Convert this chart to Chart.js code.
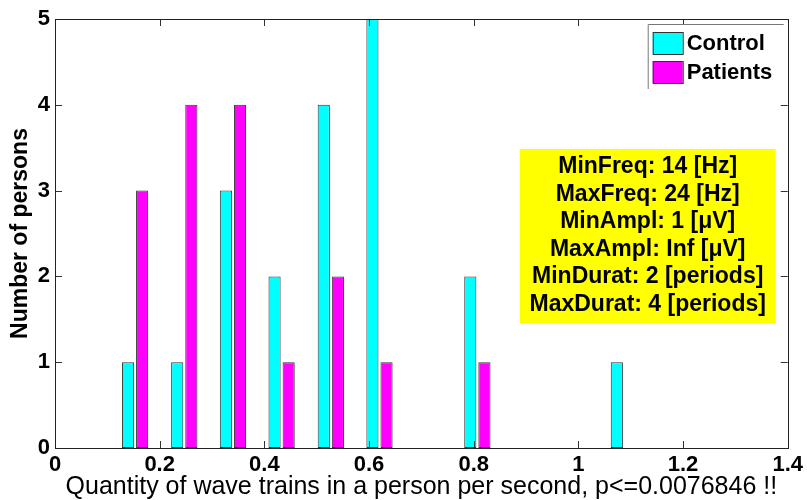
<!DOCTYPE html>
<html>
<head>
<meta charset="utf-8">
<script src="https://cdn.jsdelivr.net/npm/chart.js@4.4.0/dist/chart.umd.min.js"></script>
<style>
  html, body { margin: 0; padding: 0; background: #fff; }
  #wrap { width: 807px; height: 500px; }
</style>
</head>
<body>
<div id="wrap"><canvas id="hist"></canvas></div>
<script>
// histogram bins (centre of each bin) and counts per group
const binCenters = [0.153, 0.247, 0.340, 0.433, 0.527, 0.620, 0.713, 0.807, 0.900, 0.993, 1.087];
const controlCounts = [1, 1, 3, 2, 4, 5, 0, 2, 0, 0, 1];
const patientCounts = [3, 4, 4, 1, 2, 1, 0, 1, 0, 0, 0];
const xTicks = [0, 0.2, 0.4, 0.6, 0.8, 1, 1.2, 1.4];
const yTicks = [0, 1, 2, 3, 4, 5];
const seriesNames = ['Control', 'Patients'];
const seriesColors = ['#00ffff', '#ff00ff'];
const infoLines = [
    'MinFreq: 14 [Hz]',
    'MaxFreq: 24 [Hz]',
    'MinAmpl: 1 [\u03bcV]',
    'MaxAmpl: Inf [\u03bcV]',
    'MinDurat: 2 [periods]',
    'MaxDurat: 4 [periods]'
];
const xTitle = 'Quantity of wave trains in a person per second, p<=0.0076846 !!';
const yTitle = 'Number of persons';

const FONT = '"Liberation Sans", Arial, Helvetica, sans-serif';

function toPoints(counts) {
    // empty bins are not drawn
    return binCenters.map((x, i) => ({ x: x, y: counts[i] > 0 ? counts[i] : null }));
}

const matlabFrame = {
    id: 'matlabFrame',
    afterDatasetsDraw(chart) {
        const ctx = chart.ctx;
        const a = chart.chartArea;
        const xs = chart.scales.x, ys = chart.scales.y;
        ctx.save();

        // inward tick marks on all four sides
        ctx.strokeStyle = '#333';
        ctx.lineWidth = 1;
        const tl = 7;
        ctx.beginPath();
        for (const v of xTicks) {
            const px = Math.round(xs.getPixelForValue(v)) + 0.5;
            ctx.moveTo(px, a.bottom); ctx.lineTo(px, a.bottom - tl);
            ctx.moveTo(px, a.top); ctx.lineTo(px, a.top + tl);
        }
        for (const v of yTicks) {
            const py = Math.round(ys.getPixelForValue(v)) + 0.5;
            ctx.moveTo(a.left, py); ctx.lineTo(a.left + tl, py);
            ctx.moveTo(a.right, py); ctx.lineTo(a.right - tl, py);
        }
        ctx.stroke();

        // box
        ctx.strokeStyle = '#222';
        ctx.strokeRect(Math.round(a.left) + 0.5, Math.round(a.top) + 0.5,
            Math.round(a.right - a.left), Math.round(a.bottom - a.top));

        // legend
        const lx = a.right - 140, ly = a.top + 5, lw = 136, lh = 65;
        ctx.fillStyle = '#fff';
        ctx.fillRect(lx, ly, lw, lh);
        ctx.strokeStyle = '#777';
        ctx.beginPath();
        ctx.moveTo(lx + 0.5, ly + lh); ctx.lineTo(lx + 0.5, ly + 0.5); ctx.lineTo(lx + lw, ly + 0.5);
        ctx.stroke();
        ctx.font = 'bold 22px ' + FONT;
        ctx.textBaseline = 'middle';
        ctx.textAlign = 'left';
        seriesNames.forEach((name, i) => {
            const sy = ly + 8 + i * 29;
            ctx.fillStyle = seriesColors[i];
            ctx.fillRect(lx + 5, sy, 30, 22);
            ctx.strokeStyle = '#333';
            ctx.strokeRect(lx + 5.5, sy + 0.5, 30, 22);
            ctx.fillStyle = '#000';
            ctx.fillText(name, lx + 39, sy + 12);
        });

        // parameter box
        const bx = a.right - 268, by = a.top + 130, bw = 256, bh = 174;
        ctx.fillStyle = '#ffff00';
        ctx.fillRect(bx, by, bw, bh);
        ctx.fillStyle = '#000';
        ctx.font = 'bold 23px ' + FONT;
        ctx.textAlign = 'center';
        infoLines.forEach((t, i) => {
            ctx.fillText(t, bx + bw / 2, by + 18 + i * 27.5);
        });
        ctx.restore();
    }
};

new Chart(document.getElementById('hist'), {
    type: 'bar',
    data: {
        datasets: [
            {
                label: seriesNames[0],
                data: toPoints(controlCounts),
                backgroundColor: seriesColors[0],
                borderColor: '#333',
                borderWidth: 1,
                borderSkipped: false
            },
            {
                label: seriesNames[1],
                data: toPoints(patientCounts),
                backgroundColor: seriesColors[1],
                borderColor: '#333',
                borderWidth: 1,
                borderSkipped: false
            }
        ]
    },
    options: {
        responsive: true,
        maintainAspectRatio: false,
        animation: false,
        categoryPercentage: 0.58,
        barPercentage: 0.86,
        layout: { padding: { left: 0, top: 19, right: 19, bottom: 0 } },
        plugins: {
            legend: { display: false },
            tooltip: { enabled: false }
        },
        scales: {
            x: {
                type: 'linear',
                min: 0,
                max: 1.4,
                offset: false,
                grid: { display: false, drawTicks: false, offset: false },
                border: { display: false },
                afterBuildTicks: s => { s.ticks = xTicks.map(v => ({ value: v })); },
                afterFit: s => { s.height = 52; },
                ticks: {
                    color: '#000',
                    padding: 4,
                    maxRotation: 0,
                    autoSkip: false,
                    font: { family: FONT, size: 22, weight: 'bold' },
                    callback: v => String(v)
                },
                title: {
                    display: true,
                    text: xTitle,
                    color: '#000',
                    padding: { top: 0, bottom: -2 },
                    font: { family: FONT, size: 25 }
                }
            },
            y: {
                min: 0,
                max: 5,
                grid: { display: false, drawTicks: false },
                border: { display: false },
                afterBuildTicks: s => { s.ticks = yTicks.map(v => ({ value: v })); },
                afterFit: s => { s.width = 55; },
                ticks: {
                    color: '#000',
                    padding: 5,
                    font: { family: FONT, size: 22, weight: 'bold' }
                },
                title: {
                    display: true,
                    text: yTitle,
                    color: '#000',
                    padding: { top: 7, bottom: 0 },
                    font: { family: FONT, size: 23, weight: 'bold' }
                }
            }
        }
    },
    plugins: [matlabFrame]
});
</script>
</body>
</html>
